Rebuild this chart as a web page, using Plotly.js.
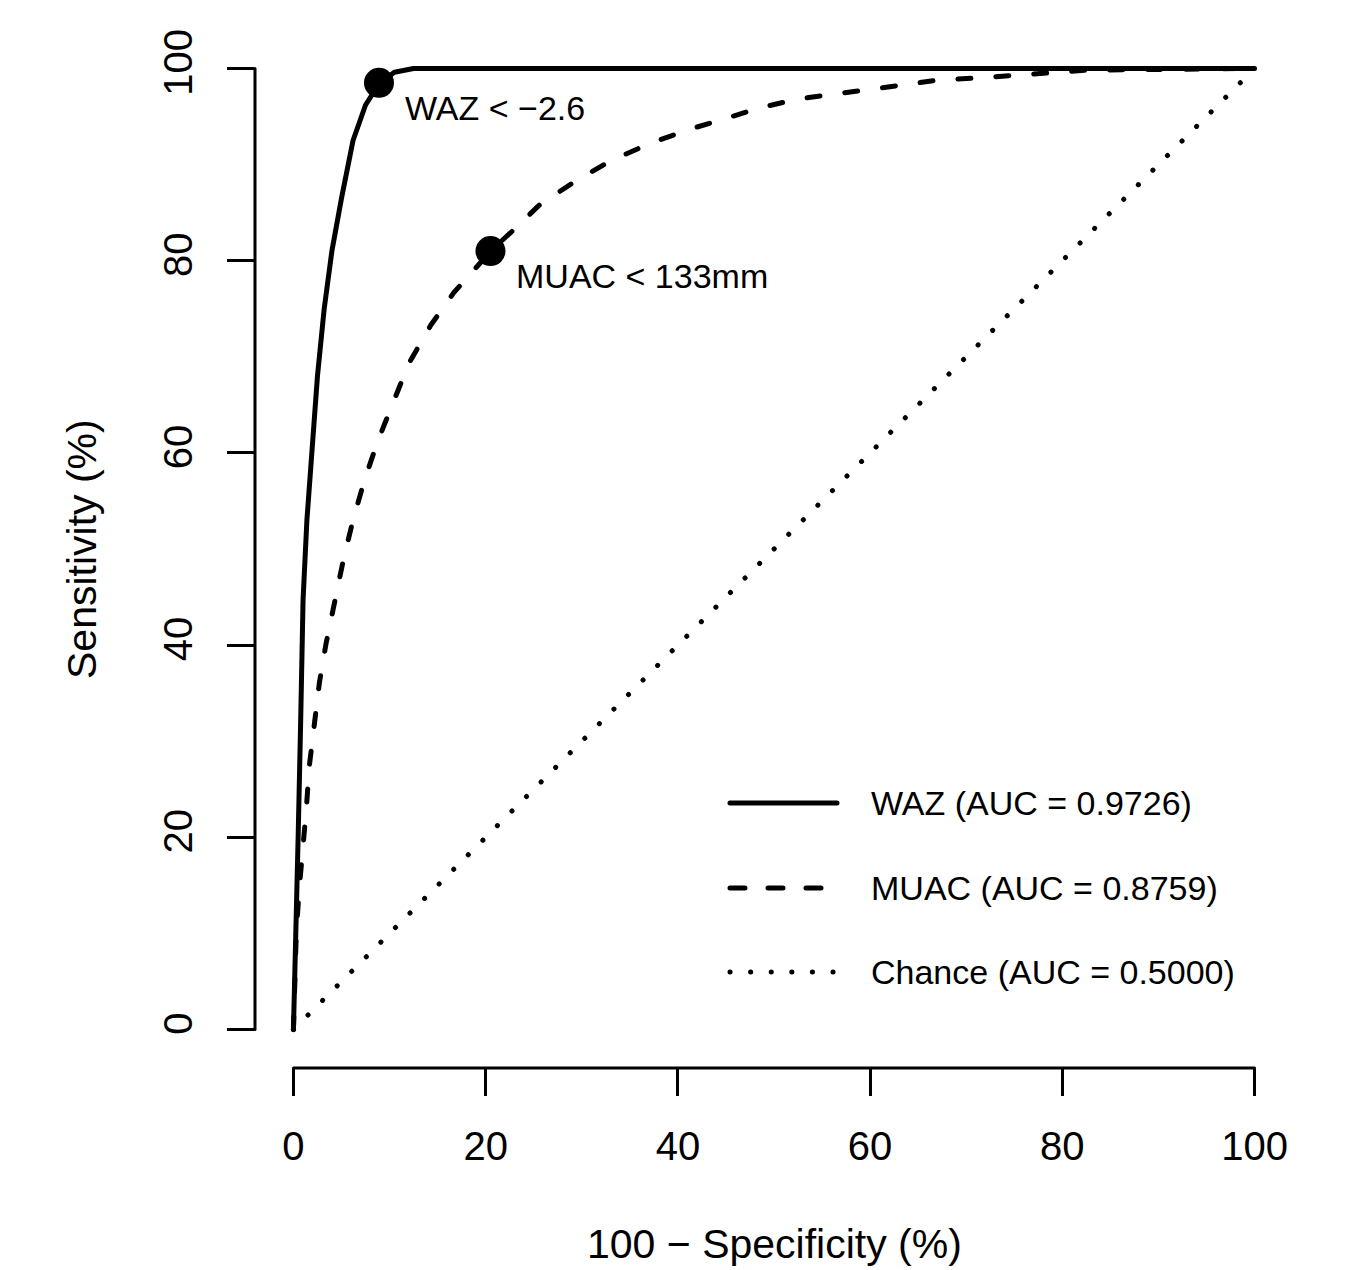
<!DOCTYPE html>
<html>
<head>
<meta charset="utf-8">
<script src="https://cdn.plot.ly/plotly-3.0.1.min.js"></script>
<style>
  html, body { margin: 0; padding: 0; background: #fff; }
  #chart { width: 1348px; height: 1270px; }
  path.js-line, .shapelayer path { stroke-linecap: round !important; stroke-linejoin: round !important; }
</style>
</head>
<body>
<div id="chart"></div>
<script>
// ROC curve for WAZ (100 - specificity %, sensitivity %)
const wazX = [0, 0.15, 0.3, 0.5, 0.75, 1.0, 1.4, 1.9, 2.5, 3.2, 4.0, 5.0, 6.2, 7.5, 8.9, 10.5, 12.5, 100];
const wazY = [0, 5, 12, 20.5, 32, 44.7, 53, 60.3, 68, 75, 81, 86.5, 92.5, 96.2, 98.4, 99.6, 100, 100];

// ROC curve for MUAC
const muacX = [0, 0.1, 0.3, 0.6, 1.0, 1.35, 1.65, 2.2, 2.7, 3.4, 4.3, 5.2, 6.2, 7.4, 8.8, 10.4, 12.0, 14.3, 16.7, 19.2, 20.5, 22.8, 25.7, 29.4, 33.0, 37.1, 41.3, 45.0, 48.5, 52.4, 56.0, 59.8, 63.5, 67.2, 71.0, 74.7, 78.4, 82.3, 90, 100];
const muacY = [0, 5.6, 10.2, 14.6, 18.8, 23.1, 27.4, 31.7, 36.1, 40.2, 44.5, 48.9, 53.0, 57.2, 61.3, 65.2, 69.3, 73.3, 76.7, 79.5, 81.0, 83.1, 85.9, 88.3, 90.4, 92.2, 93.7, 94.8, 95.9, 96.8, 97.3, 97.8, 98.3, 98.8, 99.0, 99.3, 99.5, 99.8, 99.9, 100];

// Chance line
const chanceX = [0, 100];
const chanceY = [0, 100];

// Optimal cut-off points
const cutX = [8.9, 20.5];
const cutY = [98.5, 81.0];
const cutLabels = ["WAZ &lt; \u22122.6", "MUAC &lt; 133mm"];

// Legend entries
const legendLabels = ["WAZ (AUC = 0.9726)", "MUAC (AUC = 0.8759)", "Chance (AUC = 0.5000)"];

// Axis ticks
const tickVals = [0, 20, 40, 60, 80, 100];
const tickText = ["0", "20", "40", "60", "80", "100"];

const FONT = "Liberation Sans, Arial, Helvetica, sans-serif";
const SOLID = "solid";
const DASH = "13px,25px";
const DOT = "0.1px,20.5px";

const traces = [
  { x: chanceX, y: chanceY, mode: "lines", line: { color: "#000", width: 5, dash: DOT }, hoverinfo: "skip", showlegend: false },
  { x: muacX, y: muacY, mode: "lines", line: { color: "#000", width: 5, dash: DASH }, showlegend: false },
  { x: wazX, y: wazY, mode: "lines", line: { color: "#000", width: 5, dash: SOLID }, showlegend: false },
  { x: cutX, y: cutY, mode: "markers", marker: { color: "#000", size: 30 }, showlegend: false }
];

const annotations = [];
cutLabels.forEach((t, i) => {
  annotations.push({ x: cutX[i], y: cutY[i], xref: "x", yref: "y", text: t, showarrow: false,
    xanchor: "left", yanchor: "middle", xshift: 24, yshift: -25, font: { family: FONT, size: 34, color: "#000" } });
});
// axis titles
annotations.push({ x: 50, y: 0, xref: "x", yref: "paper", text: "100 \u2212 Specificity (%)", showarrow: false,
  xanchor: "center", yanchor: "middle", yshift: -176, font: { family: FONT, size: 41, color: "#000" } });
annotations.push({ x: 0, y: 50, xref: "paper", yref: "y", text: "Sensitivity (%)", showarrow: false, textangle: -90,
  xanchor: "center", yanchor: "middle", xshift: -173, font: { family: FONT, size: 41, color: "#000" } });

// legend (layout positions in paper coordinates)
const legY = [0.2553, 0.1734, 0.0925];
const legDash = [SOLID, "15px,23px", DOT];
const legW = [5, 5, 5];
const shapes = [
  { type: "line", xref: "paper", yref: "y", x0: 0, x1: 0, y0: 0, y1: 100, line: { color: "#000", width: 3 } },
  { type: "line", xref: "x", yref: "paper", x0: 0, x1: 100, y0: 0, y1: 0, line: { color: "#000", width: 3 } }
];
legendLabels.forEach((t, i) => {
  shapes.push({ type: "line", xref: "paper", yref: "paper", x0: 0.4576, x1: 0.5607, y0: legY[i], y1: legY[i],
    line: { color: "#000", width: legW[i], dash: legDash[i] } });
  annotations.push({ x: 0.5915, y: legY[i], xref: "paper", yref: "paper", text: t, showarrow: false,
    xanchor: "left", yanchor: "middle", font: { family: FONT, size: 34, color: "#000" } });
});

const axisCommon = {
  range: [-4, 104],
  tickmode: "array",
  tickvals: tickVals,
  ticktext: tickText,
  ticks: "outside",
  ticklen: 27,
  tickwidth: 3,
  tickcolor: "#000",
  showgrid: false,
  zeroline: false,
  showline: false,
  tickfont: { family: FONT, size: 40, color: "#000" }
};

const layout = {
  width: 1348,
  height: 1270,
  margin: { l: 255, r: 55, t: 30, b: 202 },
  paper_bgcolor: "#fff",
  plot_bgcolor: "#fff",
  showlegend: false,
  xaxis: Object.assign({}, axisCommon, { ticklabelstandoff: 16 }),
  yaxis: Object.assign({}, axisCommon, { tickangle: -90, ticklabelstandoff: 19 }),
  shapes: shapes,
  annotations: annotations
};

Plotly.newPlot("chart", traces, layout, { staticPlot: true, displayModeBar: false });
</script>
</body>
</html>
